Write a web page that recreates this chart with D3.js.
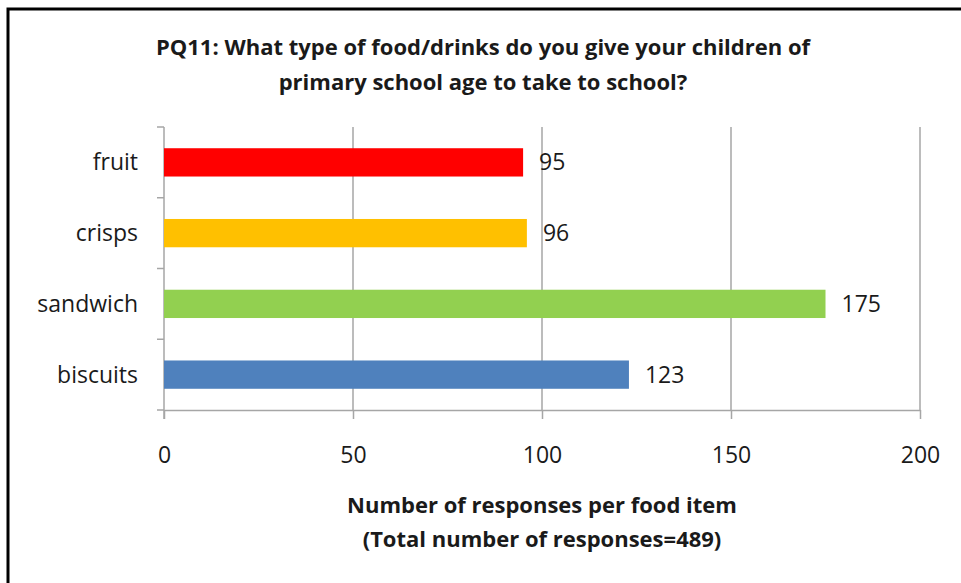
<!DOCTYPE html>
<meta charset="utf-8">
<style>
body { margin: 0; background: #fff; }
text { font-family: "Open Sans", sans-serif; fill: #1a1a1a; }
.title { font-weight: bold; font-size: 22px; }
.axis-title { font-weight: bold; font-size: 22px; }
.cat { font-size: 23px; }
.val { font-size: 23px; }
</style>
<body>
<script src="https://d3js.org/d3.v7.min.js"></script>
<script>

// data
var categories = ["fruit", "crisps", "sandwich", "biscuits"];
var responses = [95, 96, 175, 123];
var barColours = ["#ff0000", "#ffc000", "#92d050", "#4f81bd"];
var xTicks = [0, 50, 100, 150, 200];
var titleLines = ["PQ11: What type of food/drinks do you give your children of",
                  "primary school age to take to school?"];
var axisTitleLines = ["Number of responses per food item",
                      "(Total number of responses=489)"];

var W = 961, H = 583;
var plot = {left: 164, right: 920, top: 127, bottom: 410};

var svg = d3.select("body").append("svg")
    .attr("width", W)
    .attr("height", H);

// frame (only top and left edges are inside the picture)
svg.append("rect")
    .attr("x", 8).attr("y", 9)
    .attr("width", W + 20).attr("height", H + 20)
    .attr("fill", "#fff")
    .attr("stroke", "#000")
    .attr("stroke-width", 3);

// scales
var x = d3.scaleLinear().domain([0, 200]).range([plot.left, plot.right]);
var y = d3.scaleBand().domain(categories)
    .range([plot.top, plot.bottom])
    .paddingInner(0.6)
    .paddingOuter(0.3);

// gridlines
svg.append("g")
  .selectAll("line")
  .data(xTicks.filter(function(d) { return d > 0; }))
  .enter().append("line")
    .attr("x1", function(d) { return x(d); })
    .attr("x2", function(d) { return x(d); })
    .attr("y1", plot.top)
    .attr("y2", plot.bottom)
    .attr("stroke", "#a6a6a6")
    .attr("stroke-width", 1.5);

// x axis
var xAxis = svg.append("g")
    .attr("transform", "translate(0," + plot.bottom + ")")
    .call(d3.axisBottom(x).tickValues(xTicks).tickSize(9).tickSizeOuter(0).tickPadding(28));
xAxis.select(".domain").attr("stroke", "#a6a6a6").attr("stroke-width", 1.5);
xAxis.selectAll(".tick line").attr("stroke", "#a6a6a6").attr("stroke-width", 1.5);
xAxis.selectAll(".tick text")
    .style("font-family", "'Open Sans', sans-serif")
    .style("font-size", "23px")
    .attr("fill", "#1a1a1a");

// y axis line + boundary ticks
var step = y.step();
var bounds = d3.range(categories.length + 1).map(function(i) { return plot.top + i * step; });
svg.append("line")
    .attr("x1", plot.left).attr("x2", plot.left)
    .attr("y1", plot.top).attr("y2", plot.bottom + 9)
    .attr("stroke", "#a6a6a6").attr("stroke-width", 1.5);
svg.append("g").selectAll("line")
  .data(bounds)
  .enter().append("line")
    .attr("x1", plot.left - 7).attr("x2", plot.left)
    .attr("y1", function(d) { return d; })
    .attr("y2", function(d) { return d; })
    .attr("stroke", "#a6a6a6").attr("stroke-width", 1.5);

// category labels
svg.append("g").selectAll("text")
  .data(categories)
  .enter().append("text")
    .attr("class", "cat")
    .attr("x", 138)
    .attr("y", function(d) { return y(d) + y.bandwidth() / 2; })
    .attr("dy", "0.35em")
    .attr("text-anchor", "end")
    .text(function(d) { return d; });

// bars
svg.append("g").selectAll("rect")
  .data(responses)
  .enter().append("rect")
    .attr("x", x(0))
    .attr("y", function(d, i) { return y(categories[i]); })
    .attr("width", function(d) { return x(d) - x(0); })
    .attr("height", y.bandwidth())
    .attr("fill", function(d, i) { return barColours[i]; });

// value labels
svg.append("g").selectAll("text")
  .data(responses)
  .enter().append("text")
    .attr("class", "val")
    .attr("x", function(d) { return x(d) + 16; })
    .attr("y", function(d, i) { return y(categories[i]) + y.bandwidth() / 2; })
    .attr("dy", "0.35em")
    .text(function(d) { return d; });

// title
svg.append("g").selectAll("text")
  .data(titleLines)
  .enter().append("text")
    .attr("class", "title")
    .attr("x", 483)
    .attr("y", function(d, i) { return 55 + i * 35; })
    .attr("text-anchor", "middle")
    .text(function(d) { return d; });

// x axis title
svg.append("g").selectAll("text")
  .data(axisTitleLines)
  .enter().append("text")
    .attr("class", "axis-title")
    .attr("x", (plot.left + plot.right) / 2)
    .attr("y", function(d, i) { return 513 + i * 34; })
    .attr("text-anchor", "middle")
    .text(function(d) { return d; });

</script>
</body>
